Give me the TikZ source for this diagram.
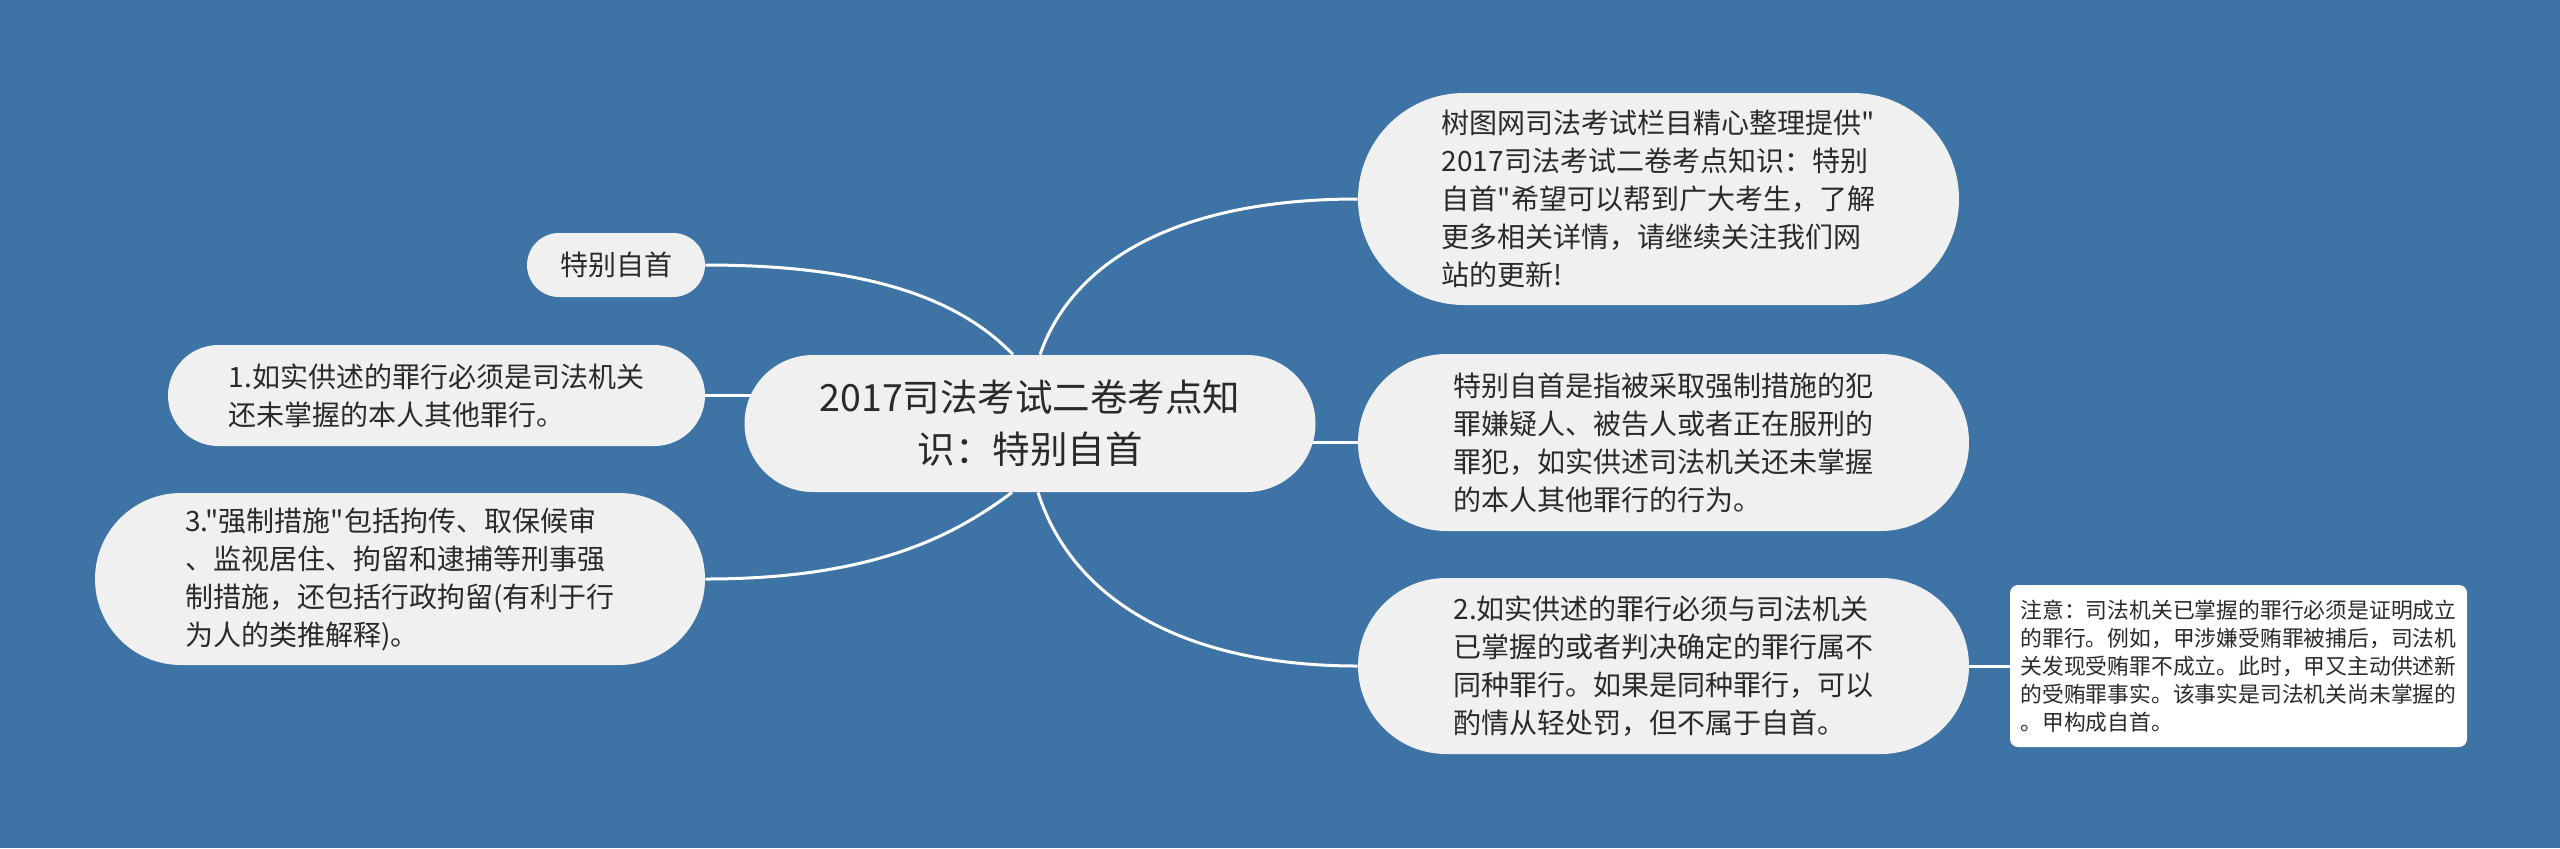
\documentclass[tikz,border=0pt]{standalone}
\usepackage{fontspec}
\setmainfont{Noto Sans CJK SC}[Ligatures=TeXOff]
\usetikzlibrary{calc}
\definecolor{bgblue}{RGB}{62,115,165}
\definecolor{nodegray}{HTML}{F0F0F0}
\definecolor{inkgray}{HTML}{2A2A2A}
\pgfdeclarelayer{back}
\pgfsetlayers{back,main}

\begin{document}
\begin{tikzpicture}[x=0.5pt, y=-0.5pt,
		topic/.style={fill=nodegray, text=inkgray, align=left, inner sep=0pt,
		font=\fontsize{14pt}{19pt}\selectfont},
		pill/.style 2 args={topic, minimum width=#1, minimum height=#2, rounded corners=#2/2},
		branch/.style={white, line width=1.5pt}]
		\node[pill={285.5pt}{68.5pt}, align=center, font=\fontsize{18.75pt}{26pt}\selectfont] (root) at (1030,423.5)
		{2017司法考试二卷考点知\\识：特别自首};
		\node[pill={89pt}{32pt}] (tbzs) at (616,265) {特别自首};
		\node[pill={268.5pt}{50.5pt}] (yi) at (436.5,395.5)
		{1.如实供述的罪行必须是司法机关\\还未掌握的本人其他罪行。};
		\node[pill={305pt}{86pt}] (san) at (400,579)
		{3."强制措施"包括拘传、取保候审\\、监视居住、拘留和逮捕等刑事强\\制措施，还包括行政拘留(有利于行\\为人的类推解释)。};
		\node[pill={300.5pt}{106pt}] (shutu) at (1658.5,199)
		{树图网司法考试栏目精心整理提供"\\2017司法考试二卷考点知识：特别\\自首"希望可以帮到广大考生，了解\\更多相关详情，请继续关注我们网\\站的更新!};
		\node[pill={305.5pt}{88.5pt}] (dingyi) at (1663.5,442.5)
		{特别自首是指被采取强制措施的犯\\罪嫌疑人、被告人或者正在服刑的\\罪犯，如实供述司法机关还未掌握\\的本人其他罪行的行为。};
		\node[pill={305.5pt}{88pt}] (er) at (1663.5,666)
		{2.如实供述的罪行必须与司法机关\\已掌握的或者判决确定的罪行属不\\同种罪行。如果是同种罪行，可以\\酌情从轻处罚，但不属于自首。};
		\node[topic, fill=white, rounded corners=4pt, minimum width=228.5pt, minimum height=81pt,
		font=\fontsize{10.9pt}{14pt}\selectfont] (zhuyi) at (2238.5,666)
		{注意：司法机关已掌握的罪行必须是证明成立\\的罪行。例如，甲涉嫌受贿罪被捕后，司法机\\关发现受贿罪不成立。此时，甲又主动供述新\\的受贿罪事实。该事实是司法机关尚未掌握的\\。甲构成自首。};
		\begin{pgfonlayer}{back}
		\fill[bgblue] (0,0) rectangle (2560,848);
		\draw[branch] (tbzs.east) .. controls +(165,0) and +(-53,-55) .. ($(root.north)+(-17,0)$);
		\draw[branch] (yi.east) -- (yi.east -| root.center);
		\draw[branch] (san.east) .. controls +(165,0) and +(-60,45) .. ($(root.south)+(-18,0)$);
		\draw[branch] ($(root.north)+(10,0)$) .. controls +(35,-100) and +(-170,0) .. (shutu.west);
		\draw[branch] (root.center |- dingyi.west) -- (dingyi.west);
		\draw[branch] ($(root.south)+(8,0)$) .. controls +(35,110) and +(-170,0) .. (er.west);
		\draw[branch] (er.east) -- (zhuyi.west);
		\end{pgfonlayer}
\end{tikzpicture}
\end{document}
